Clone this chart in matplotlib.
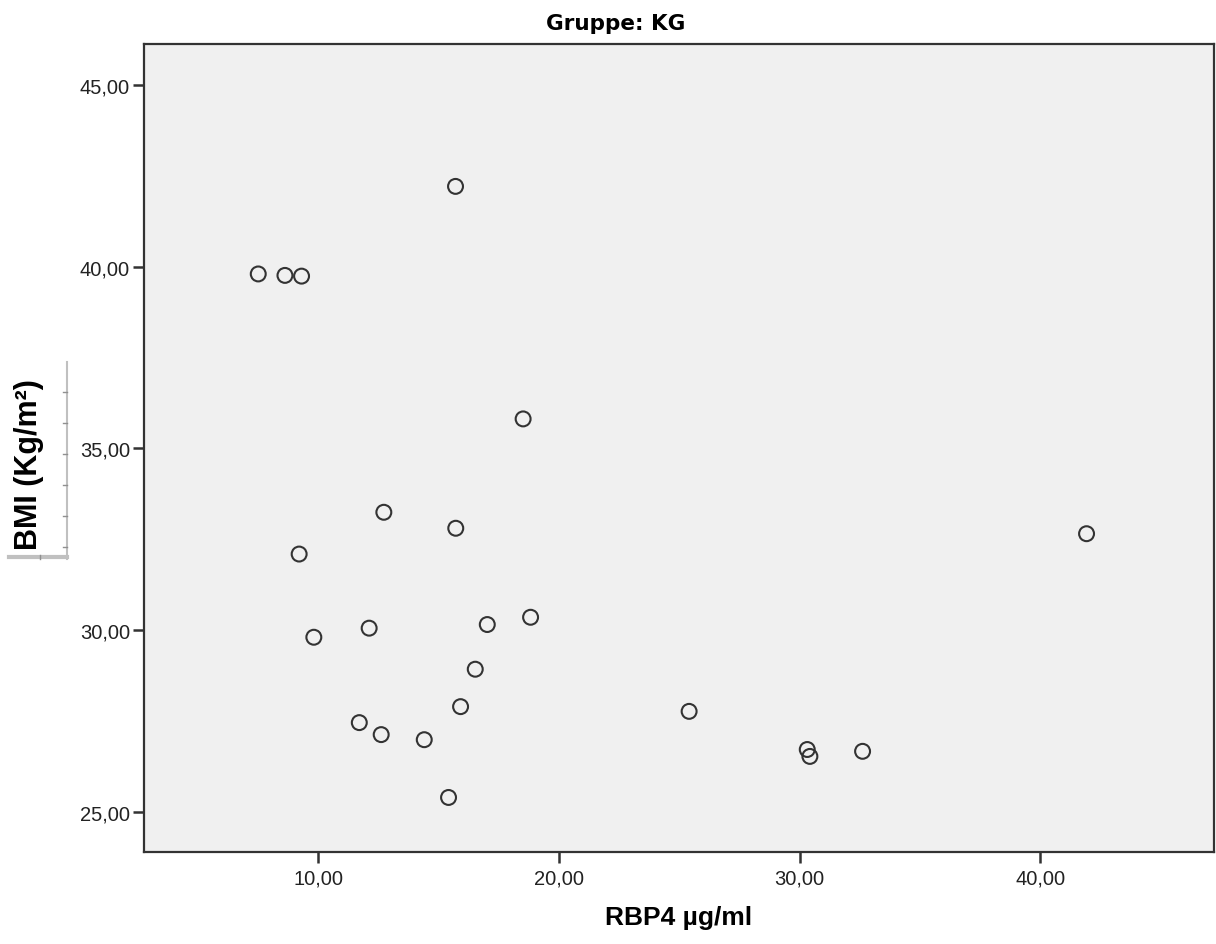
import matplotlib
matplotlib.use("Agg")
import matplotlib.pyplot as plt
from matplotlib.ticker import FuncFormatter
from matplotlib.lines import Line2D

# Daten
rbp4 = [15.70, 7.50, 8.61, 9.30, 18.51, 12.72, 15.71, 9.20, 41.93, 9.81,
        12.11, 17.02, 18.82, 16.52, 15.91, 11.70, 12.61, 14.40, 15.41, 25.41,
        30.32, 30.43, 32.62]
bmi = [42.21, 39.80, 39.76, 39.74, 35.81, 33.24, 32.80, 32.09, 32.65, 29.80,
       30.05, 30.15, 30.35, 28.92, 27.89, 27.45, 27.12, 26.98, 25.39, 27.76,
       26.71, 26.52, 26.66]
x_ticks = [10, 20, 30, 40]
y_ticks = [25, 30, 35, 40, 45]

plt.rcParams["font.family"] = ["Liberation Sans", "DejaVu Sans"]

W, H = 1216, 945
fig = plt.figure(figsize=(W / 100, H / 100), dpi=100)
ax = fig.add_axes([0.1188, 0.0974, 0.8796, 0.855])
ax.set_facecolor("#f0f0f0")

ax.scatter(rbp4, bmi, s=115, facecolors="none", edgecolors="#333333", linewidths=1.5, zorder=3)

ax.set_xlim(2.77, 47.23)
ax.set_ylim(23.89, 46.13)
ax.set_xticks(x_ticks)
ax.set_yticks(y_ticks)
fmt = FuncFormatter(lambda v, p: f"{v:.2f}".replace(".", ","))
ax.xaxis.set_major_formatter(fmt)
ax.yaxis.set_major_formatter(fmt)
ax.tick_params(direction="out", length=8, width=1.8, color="#333333",
               labelsize=14.5, labelcolor="#222222")
ax.tick_params(axis="x", pad=4)
ax.tick_params(axis="y", pad=2.5)

for s in ax.spines.values():
    s.set_color("#333333")
    s.set_linewidth(1.6)

fig.text(0.506, 0.975, "Gruppe: KG", ha="center", va="center",
         fontsize=15.5, fontweight="bold", family="DejaVu Sans")
fig.text(0.558, 0.029, "RBP4 µg/ml", ha="center", va="center",
         fontsize=19, fontweight="bold")
fig.text(0.024, 0.508, "BMI (Kg/m²)", rotation=90, ha="center", va="center",
         fontsize=22, fontweight="bold")

# grauer Rahmen um die Y-Beschriftung
grau = "#c0c0c0"
fig.add_artist(Line2D([67 / W, 67 / W], [1 - 363 / H, 1 - 560 / H], color=grau, linewidth=1.5))
fig.add_artist(Line2D([9 / W, 67 / W], [1 - 558 / H, 1 - 558 / H], color=grau, linewidth=3))
for yy in [393, 424, 455, 486, 517, 548]:
    fig.add_artist(Line2D([63 / W, 67 / W], [1 - yy / H, 1 - yy / H], color="#909090", linewidth=1))
fig.add_artist(Line2D([40 / W, 40 / W], [1 - 556 / H, 1 - 560 / H], color="#909090", linewidth=1))

plt.savefig("out.png", dpi=100)
plt.close()
